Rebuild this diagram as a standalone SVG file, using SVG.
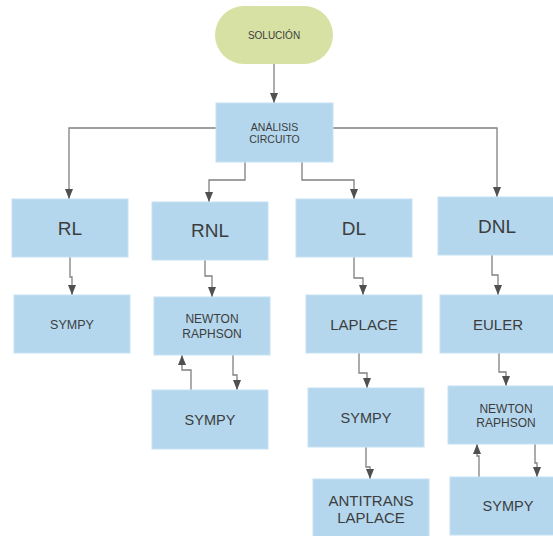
<svg xmlns="http://www.w3.org/2000/svg" width="553" height="536" viewBox="0 0 553 536">
<style>
.box{fill:#b4d7ee;stroke:#c6e1f3;stroke-width:1}
.pill{fill:#d6e1a3}
text{font-family:"Liberation Sans",Arial,sans-serif;fill:#3d3d3d;text-anchor:middle}
.big{font-size:19px}
.mid{font-size:15px}
.sm{font-size:12px}
.xs{font-size:10.5px}
.c{fill:none;stroke:#808080;stroke-width:1.3}
</style>
<defs>
<marker id="ah" markerUnits="userSpaceOnUse" markerWidth="10" markerHeight="10" viewBox="0 0 10 10" refX="10" refY="5" orient="auto">
<path d="M0,1 L10,5 L0,9 z" fill="#505050"/>
</marker>
</defs>
<rect width="553" height="536" fill="#fff"/>
<g id="connectors">
<path class="c" d="M274,64 V103" marker-end="url(#ah)"/>
<path class="c" d="M216,128 H69 V199" marker-end="url(#ah)"/>
<path class="c" d="M245,162 V180 H209 V202" marker-end="url(#ah)"/>
<path class="c" d="M302,162 V180 H354 V199" marker-end="url(#ah)"/>
<path class="c" d="M333,128 H497 V197" marker-end="url(#ah)"/>
<path class="c" d="M70,257 V277 H72 V295" marker-end="url(#ah)"/>
<path class="c" d="M205,260 V276 H212 V297" marker-end="url(#ah)"/>
<path class="c" d="M191,390 V370 H182 V355" marker-end="url(#ah)"/>
<path class="c" d="M233,355 V375 H237 V390" marker-end="url(#ah)"/>
<path class="c" d="M354,257 V278 H363 V295" marker-end="url(#ah)"/>
<path class="c" d="M492,255 V275 H498 V295" marker-end="url(#ah)"/>
<path class="c" d="M359,353 V373 H367 V388" marker-end="url(#ah)"/>
<path class="c" d="M366,447 V467 H370 V479" marker-end="url(#ah)"/>
<path class="c" d="M499,353 V372 H506 V386" marker-end="url(#ah)"/>
<path class="c" d="M479,477 V456 H477 V444" marker-end="url(#ah)"/>
<path class="c" d="M535,444 V463 H537 V477" marker-end="url(#ah)"/>
</g>
<g id="solucion"><rect class="pill" x="215" y="6" width="118" height="58" rx="29"/><text class="xs" x="274" y="39" style="font-size:10px">SOLUCIÓN</text></g>
<g id="analisis"><rect class="box" x="216" y="103" width="117" height="59"/><text class="xs" x="274.5" y="131">ANÁLISIS</text><text class="xs" x="274.5" y="143">CIRCUITO</text></g>
<g id="rl"><rect class="box" x="12" y="199" width="116" height="58"/><text class="big" x="70" y="235">RL</text></g>
<g id="rnl"><rect class="box" x="152" y="202" width="116" height="58"/><text class="big" x="210" y="237">RNL</text></g>
<g id="dl"><rect class="box" x="296" y="199" width="116" height="58"/><text class="big" x="354" y="235">DL</text></g>
<g id="dnl"><rect class="box" x="438" y="197" width="118" height="58"/><text class="big" x="497" y="233">DNL</text></g>
<g id="rl-sympy"><rect class="box" x="14" y="295" width="116" height="58"/><text style="font-size:12.5px" x="72" y="329">SYMPY</text></g>
<g id="rnl-newton"><rect class="box" x="154" y="297" width="116" height="58"/><text class="sm" x="212" y="323">NEWTON</text><text class="sm" x="212" y="337.5">RAPHSON</text></g>
<g id="rnl-sympy"><rect class="box" x="152" y="390" width="116" height="59"/><text style="font-size:14.5px" x="210" y="425">SYMPY</text></g>
<g id="dl-laplace"><rect class="box" x="306" y="295" width="116" height="58"/><text class="mid" x="364" y="330">LAPLACE</text></g>
<g id="dl-sympy"><rect class="box" x="308" y="388" width="116" height="59"/><text style="font-size:14.5px" x="366" y="423">SYMPY</text></g>
<g id="dl-antitrans"><rect class="box" x="313" y="479" width="116" height="60"/><text class="mid" x="371" y="505.5">ANTITRANS</text><text class="mid" x="371" y="522.5">LAPLACE</text></g>
<g id="dnl-euler"><rect class="box" x="440" y="295" width="116" height="58"/><text class="mid" x="498" y="330">EULER</text></g>
<g id="dnl-newton"><rect class="box" x="448" y="386" width="108" height="58"/><text class="sm" x="506" y="412.5">NEWTON</text><text class="sm" x="506" y="427">RAPHSON</text></g>
<g id="dnl-sympy"><rect class="box" x="450" y="477" width="106" height="58"/><text style="font-size:14.5px" x="508" y="510.5">SYMPY</text></g>
</svg>
